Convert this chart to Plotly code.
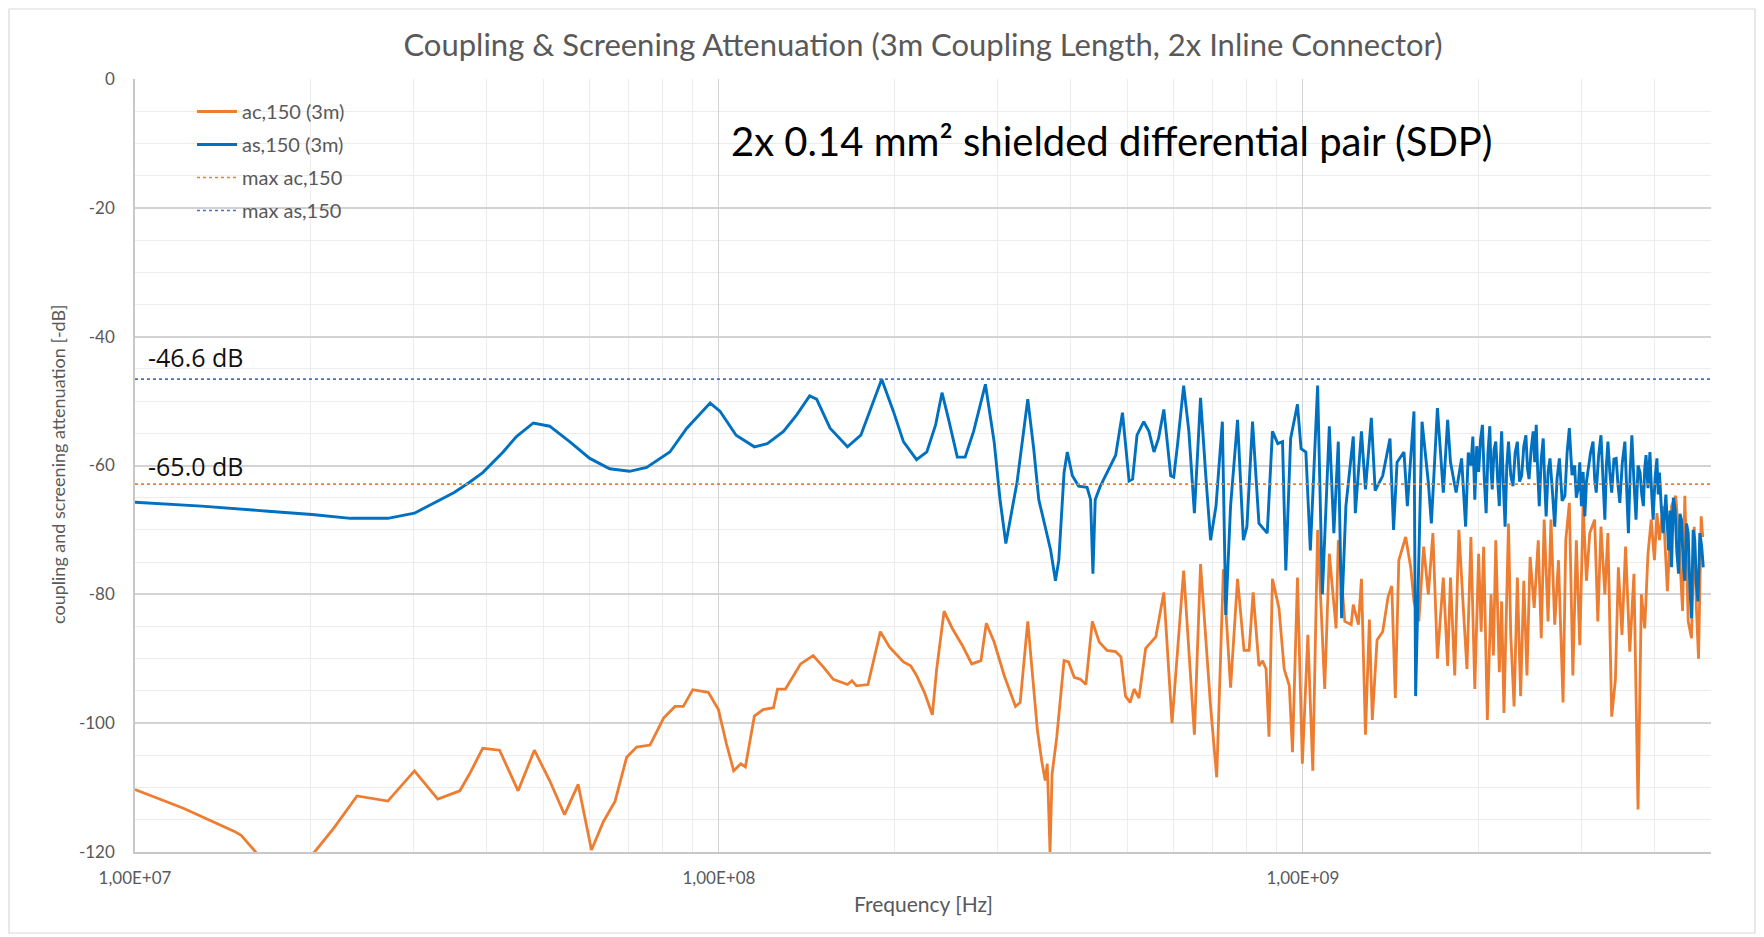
import plotly.graph_objects as go

# ---------------- data ----------------
# as,150 (3m) : 10 MHz .. 1.9 GHz
as_freq_low = [1.00e7, 1.30e7, 1.69e7, 2.01e7, 2.34e7, 2.71e7, 3.01e7, 3.26e7, 3.52e7, 3.74e7,
               3.94e7, 4.27e7, 4.50e7, 4.81e7, 5.13e7, 5.55e7, 6.01e7, 6.50e7, 7.03e7, 7.52e7,
               8.24e7, 8.81e7, 9.66e7, 1.005e8, 1.07e8, 1.15e8, 1.21e8, 1.29e8, 1.36e8, 1.43e8,
               1.47e8, 1.55e8, 1.66e8, 1.75e8, 1.82e8, 1.90e8, 1.99e8, 2.07e8, 2.18e8, 2.27e8,
               2.35e8, 2.41e8, 2.47e8, 2.56e8, 2.64e8, 2.73e8, 2.86e8, 2.96e8, 3.03e8, 3.10e8,
               3.24e8, 3.38e8, 3.46e8, 3.53e8, 3.62e8, 3.70e8, 3.77e8, 3.82e8, 3.90e8, 3.95e8,
               4.03e8, 4.13e8, 4.27e8, 4.33e8, 4.37e8, 4.41e8, 4.50e8, 4.69e8, 4.78e8, 4.91e8,
               5.04e8, 5.11e8, 5.20e8, 5.34e8, 5.45e8, 5.56e8, 5.66e8, 5.78e8, 5.94e8, 6.01e8,
               6.10e8, 6.25e8, 6.38e8, 6.52e8, 6.68e8, 6.82e8, 6.95e8, 7.10e8, 7.28e8, 7.38e8,
               7.52e8, 7.73e8, 7.91e8, 8.02e8, 8.20e8, 8.41e8, 8.69e8, 8.87e8, 9.06e8, 9.23e8,
               9.35e8, 9.53e8, 9.79e8, 9.93e8, 1.012e9, 1.03e9, 1.06e9, 1.08e9, 1.11e9, 1.13e9,
               1.15e9, 1.165e9, 1.185e9, 1.22e9, 1.23e9, 1.26e9, 1.28e9, 1.31e9, 1.33e9, 1.37e9,
               1.41e9, 1.43e9, 1.45e9, 1.49e9, 1.51e9, 1.55e9, 1.56e9, 1.60e9, 1.64e9, 1.66e9,
               1.70e9, 1.74e9, 1.77e9, 1.79e9, 1.83e9, 1.87e9, 1.90e9]
as_val_low = [-65.7, -66.3, -67.1, -67.6, -68.2, -68.2, -67.4, -65.8, -64.2, -62.6,
              -61.1, -57.9, -55.5, -53.4, -53.9, -56.3, -58.9, -60.5, -60.9, -60.3,
              -57.9, -54.2, -50.3, -51.6, -55.3, -57.1, -56.6, -54.7, -52.1, -49.2,
              -49.7, -54.2, -57.1, -55.3, -51.1, -46.6, -51.6, -56.3, -59.1, -57.9,
              -53.7, -48.7, -52.6, -58.7, -58.7, -54.7, -47.4, -56.3, -65.3, -72.1,
              -62.6, -49.7, -57.4, -65.3, -69.5, -73.2, -77.9, -74.7, -61.1, -57.9,
              -61.6, -63.2, -63.4, -65.3, -76.8, -65.3, -63.2, -60.0, -58.4, -51.8,
              -62.4, -62.1, -55.3, -53.2, -54.7, -57.9, -55.8, -51.3, -61.6, -61.8,
              -56.8, -47.6, -54.7, -67.4, -49.5, -61.6, -71.6, -66.3, -53.2, -83.2,
              -66.3, -52.9, -71.6, -69.5, -53.2, -69.0, -70.5, -54.7, -56.6, -56.3,
              -76.3, -55.8, -50.5, -57.4, -57.9, -73.2, -47.6, -80.0, -53.9, -70.5,
              -56.3, -83.7, -66.3, -55.5, -67.4, -54.7, -63.7, -52.6, -63.9, -61.6,
              -55.8, -70.0, -59.5, -57.9, -66.3, -51.6, -95.8, -53.2, -62.6, -69.0,
              -51.1, -64.2, -52.9, -59.5, -64.2, -58.9, -69.5]

# as,150 (3m) : 1.9 GHz .. 4.85 GHz (dense band)
as_freq_high = [1.92e9, 1.94e9, 1.955e9, 1.97e9, 1.985e9, 2.00e9, 2.015e9, 2.03e9, 2.045e9, 2.06e9,
                2.075e9, 2.09e9, 2.10e9, 2.11e9, 2.125e9, 2.14e9, 2.155e9, 2.17e9, 2.18e9, 2.19e9,
                2.205e9, 2.22e9, 2.235e9, 2.25e9, 2.27e9, 2.29e9, 2.31e9, 2.33e9, 2.35e9, 2.37e9,
                2.39e9, 2.41e9, 2.425e9, 2.44e9, 2.46e9, 2.48e9, 2.495e9, 2.51e9, 2.525e9, 2.54e9,
                2.56e9, 2.58e9, 2.595e9, 2.61e9, 2.63e9, 2.65e9, 2.675e9, 2.70e9, 2.725e9, 2.75e9,
                2.78e9, 2.81e9, 2.835e9, 2.86e9, 2.89e9, 2.92e9, 2.94e9, 2.96e9, 2.98e9, 3.00e9,
                3.02e9, 3.04e9, 3.06e9, 3.08e9, 3.11e9, 3.14e9, 3.16e9, 3.18e9, 3.21e9, 3.24e9,
                3.265e9, 3.29e9, 3.31e9, 3.33e9, 3.355e9, 3.38e9, 3.41e9, 3.44e9, 3.465e9, 3.49e9,
                3.525e9, 3.56e9, 3.585e9, 3.61e9, 3.635e9, 3.66e9, 3.69e9, 3.72e9, 3.75e9, 3.78e9,
                3.805e9, 3.83e9, 3.85e9, 3.87e9, 3.90e9, 3.93e9, 3.955e9, 3.98e9, 4.01e9, 4.04e9,
                4.06e9, 4.08e9, 4.11e9, 4.14e9, 4.185e9, 4.23e9, 4.255e9, 4.28e9, 4.31e9, 4.34e9,
                4.37e9, 4.40e9, 4.425e9, 4.45e9, 4.48e9, 4.51e9, 4.54e9, 4.57e9, 4.60e9, 4.63e9,
                4.66e9, 4.69e9, 4.72e9, 4.75e9, 4.785e9, 4.82e9, 4.85e9]
as_val_high = [-58.0, -60.0, -55.5, -65.3, -57.0, -61.0, -56.0, -53.7, -62.0, -67.4,
               -58.0, -53.9, -60.5, -63.7, -57.5, -56.3, -62.0, -66.3, -59.0, -54.7,
               -63.0, -69.5, -60.0, -56.3, -61.5, -63.2, -58.0, -56.3, -62.5, -61.6,
               -57.0, -55.3, -60.5, -62.1, -57.5, -54.7, -59.5, -53.7, -61.0, -66.3,
               -59.0, -55.8, -62.5, -67.9, -61.0, -58.9, -64.0, -69.5, -62.0, -58.9,
               -65.5, -64.7, -58.0, -54.2, -61.5, -60.0, -65.0, -63.7, -59.5, -66.3,
               -61.0, -67.9, -62.5, -60.5, -58.0, -56.3, -62.0, -64.2, -58.5, -55.3,
               -62.0, -68.4, -60.0, -56.3, -61.0, -64.2, -59.0, -58.9, -63.0, -65.8,
               -59.5, -56.3, -63.5, -70.5, -61.0, -55.3, -62.5, -68.4, -60.0, -61.1,
               -64.5, -66.3, -60.5, -58.4, -63.5, -57.9, -64.0, -68.4, -62.0, -58.9,
               -64.5, -61.1, -66.5, -70.5, -64.5, -73.2, -67.0, -75.8, -65.0, -66.8,
               -73.5, -76.8, -67.5, -68.4, -75.0, -77.9, -69.0, -70.5, -79.0, -83.7,
               -70.0, -71.6, -78.5, -81.1, -70.5, -72.6, -75.8]

# ac,150 (3m)
ac_freq = [1.00e7, 1.21e7, 1.48e7, 1.52e7, 1.62e7, 1.80e7, 2.03e7, 2.19e7, 2.40e7, 2.71e7,
           3.01e7, 3.30e7, 3.60e7, 3.74e7, 3.94e7, 4.21e7, 4.53e7, 4.83e7, 5.13e7, 5.44e7,
           5.74e7, 6.05e7, 6.34e7, 6.64e7, 6.95e7, 7.23e7, 7.62e7, 8.04e7, 8.41e7, 8.69e7,
           9.02e7, 9.59e7, 9.98e7, 1.03e8, 1.06e8, 1.09e8, 1.11e8, 1.15e8, 1.19e8, 1.24e8,
           1.26e8, 1.30e8, 1.38e8, 1.45e8, 1.51e8, 1.57e8, 1.66e8, 1.69e8, 1.72e8, 1.80e8,
           1.89e8, 1.96e8, 2.07e8, 2.13e8, 2.18e8, 2.25e8, 2.32e8, 2.36e8, 2.43e8, 2.51e8,
           2.61e8, 2.71e8, 2.81e8, 2.87e8, 2.96e8, 3.08e8, 3.22e8, 3.28e8, 3.38e8, 3.51e8,
           3.57e8, 3.62e8, 3.65e8, 3.69e8, 3.72e8, 3.79e8, 3.90e8, 3.97e8, 4.06e8, 4.16e8,
           4.25e8, 4.36e8, 4.48e8, 4.62e8, 4.78e8, 4.88e8, 4.97e8, 5.06e8, 5.14e8, 5.24e8,
           5.38e8, 5.60e8, 5.78e8, 5.97e8, 6.25e8, 6.52e8, 6.68e8, 6.95e8, 7.12e8, 7.31e8,
           7.52e8, 7.73e8, 7.93e8, 8.09e8, 8.22e8, 8.41e8, 8.53e8, 8.65e8, 8.75e8, 8.87e8,
           9.10e8, 9.29e8, 9.48e8, 9.60e8, 9.79e8, 9.98e8, 1.02e9, 1.04e9, 1.06e9, 1.09e9,
           1.11e9, 1.14e9, 1.15e9, 1.18e9, 1.21e9, 1.22e9, 1.245e9, 1.26e9, 1.28e9, 1.30e9,
           1.315e9, 1.34e9, 1.37e9, 1.40e9, 1.42e9, 1.44e9, 1.46e9, 1.50e9, 1.53e9, 1.55e9,
           1.58e9, 1.61e9, 1.64e9, 1.67e9, 1.70e9, 1.74e9, 1.77e9, 1.79e9, 1.82e9, 1.85e9,
           1.89e9, 1.91e9, 1.94e9, 1.97e9, 2.00e9, 2.02e9, 2.04e9, 2.07e9, 2.10e9, 2.12e9,
           2.14e9, 2.17e9, 2.19e9, 2.21e9, 2.25e9, 2.27e9, 2.30e9, 2.33e9, 2.36e9, 2.39e9,
           2.42e9, 2.45e9, 2.49e9, 2.53e9, 2.56e9, 2.59e9, 2.63e9, 2.66e9, 2.70e9, 2.74e9,
           2.79e9, 2.82e9, 2.86e9, 2.90e9, 2.94e9, 2.98e9, 3.02e9, 3.06e9, 3.10e9, 3.16e9,
           3.20e9, 3.24e9, 3.29e9, 3.33e9, 3.38e9, 3.43e9, 3.47e9, 3.52e9, 3.57e9, 3.63e9,
           3.69e9, 3.75e9, 3.80e9, 3.85e9, 3.90e9, 3.95e9, 4.00e9, 4.04e9, 4.08e9, 4.14e9,
           4.21e9, 4.28e9, 4.35e9, 4.40e9, 4.47e9, 4.51e9, 4.57e9, 4.63e9, 4.68e9, 4.72e9,
           4.76e9, 4.81e9, 4.84e9]
ac_val = [-110.3, -113.2, -116.8, -117.4, -120.3, -124.0, -120.0, -116.3, -111.3, -112.1,
          -107.4, -111.8, -110.5, -107.9, -103.9, -104.2, -110.5, -104.2, -108.9, -114.2,
          -109.5, -119.7, -115.3, -112.1, -105.3, -103.7, -103.4, -99.2, -97.4, -97.4,
          -94.8, -95.2, -97.9, -103.2, -107.4, -106.3, -106.8, -98.9, -97.9, -97.6,
          -94.7, -94.7, -90.8, -89.5, -91.3, -93.2, -94.0, -93.4, -94.2, -94.0,
          -85.8, -88.2, -90.5, -91.1, -92.6, -95.3, -98.7, -91.6, -82.6, -85.3,
          -87.9, -90.8, -90.3, -84.5, -87.4, -92.6, -97.4, -96.8, -84.2, -101.0,
          -105.8, -108.9, -106.3, -120.0, -107.9, -102.1, -90.3, -90.5, -92.9, -93.2,
          -94.0, -84.2, -87.4, -88.7, -88.9, -89.7, -95.8, -96.8, -94.7, -96.1,
          -88.4, -86.6, -79.7, -100.0, -76.3, -101.8, -75.3, -97.4, -108.4, -76.1,
          -94.5, -77.6, -88.7, -88.7, -79.7, -91.1, -90.3, -91.6, -102.1, -77.6,
          -82.1, -91.6, -94.2, -104.5, -77.4, -106.3, -86.3, -107.4, -70.0, -94.7,
          -73.7, -85.3, -71.6, -84.2, -84.7, -81.6, -84.7, -77.6, -101.8, -83.9,
          -99.5, -87.1, -85.8, -80.3, -78.7, -96.1, -74.7, -71.1, -75.8, -81.1,
          -84.2, -72.6, -80.0, -70.5, -90.0, -77.4, -91.1, -77.4, -92.6, -70.0,
          -84.7, -91.6, -71.1, -94.7, -73.7, -85.8, -72.6, -99.5, -80.0, -89.5,
          -71.6, -92.1, -81.1, -98.4, -69.0, -86.3, -97.4, -77.4, -95.8, -77.9,
          -92.6, -74.2, -82.1, -71.6, -86.8, -68.4, -84.2, -68.4, -84.7, -74.7,
          -96.8, -71.6, -65.8, -92.6, -71.6, -87.9, -66.3, -77.9, -70.5, -68.4,
          -84.2, -69.5, -80.0, -70.5, -99.0, -93.2, -75.8, -86.3, -72.6, -88.9,
          -76.8, -113.4, -80.0, -85.3, -73.7, -68.4, -74.7, -67.4, -71.6, -66.3,
          -79.5, -66.3, -64.7, -70.5, -82.6, -64.7, -84.2, -86.8, -69.5, -82.1,
          -90.0, -67.9, -71.1]

as_freq = as_freq_low + as_freq_high
as_val = as_val_low + as_val_high
assert len(as_freq) == len(as_val) and len(ac_freq) == len(ac_val)

max_ac = -62.9
max_as = -46.6
label_as = "-46.6 dB"
label_ac = "-65.0 dB"

x_range_hz = [1e7, 5e9]
x_major = [1e7, 1e8, 1e9]
x_major_text = ["1,00E+07", "1,00E+08", "1,00E+09"]
x_minor = [2e7, 3e7, 4e7, 5e7, 6e7, 7e7, 8e7, 9e7,
           2e8, 3e8, 4e8, 5e8, 6e8, 7e8, 8e8, 9e8,
           2e9, 3e9, 4e9, 5e9]
y_ticks = [0, -20, -40, -60, -80, -100, -120]
y_tick_text = ["0", "-20", "-40", "-60", "-80", "-100", "-120"]

ORANGE = "#ED7D31"
BLUE = "#0070C0"
DOT_BLUE = "#4472C4"
GRAY = "#595959"

# ---------------- geometry (page pixels; page body has an 8 px margin) ----------------
W, H = 1764, 937
OFF = 8
L, R, T, B = 135, 1711, 79, 852


def px(x):
    return (x - L) / (R - L)


def py(y):
    return (B - y) / (B - T)


fig = go.Figure()
fig.add_trace(go.Scatter(x=ac_freq, y=ac_val, mode="lines", name="ac,150 (3m)",
                         line=dict(color=ORANGE, width=2.8), legendgroup="a"))
fig.add_trace(go.Scatter(x=as_freq, y=as_val, mode="lines", name="as,150 (3m)",
                         line=dict(color=BLUE, width=2.9), legendgroup="b"))
fig.add_trace(go.Scatter(x=x_range_hz, y=[max_ac, max_ac], mode="lines", name="max ac,150",
                         line=dict(color=ORANGE, width=1.7, dash="dot"), legendgroup="c"))
fig.add_trace(go.Scatter(x=x_range_hz, y=[max_as, max_as], mode="lines", name="max as,150",
                         line=dict(color=DOT_BLUE, width=1.7, dash="dot"), legendgroup="d"))

fig.update_layout(
    width=W, height=H,
    margin=dict(l=L - OFF, r=W - (R - OFF), t=T - OFF, b=H - (B - OFF)),
    paper_bgcolor="white", plot_bgcolor="white",
    font=dict(family="Lato, Open Sans, sans-serif", color=GRAY),
    title=dict(text="Coupling & Screening Attenuation (3m Coupling Length, 2x Inline Connector)",
               x=0.5, xref="paper", xanchor="center", y=1 - (45 - OFF) / H, yanchor="middle",
               font=dict(size=31, color=GRAY, family="Lato, sans-serif")),
    legend=dict(x=px(192), y=py(92), xanchor="left", yanchor="top",
                bgcolor="rgba(0,0,0,0)", font=dict(size=20, color=GRAY),
                tracegroupgap=4, itemwidth=40),
    showlegend=True,
)

fig.update_xaxes(type="log", range=[7, 9.69897], tickvals=x_major, ticktext=x_major_text,
                 showgrid=True, gridcolor="#D3D3D3", gridwidth=1,
                 minor=dict(tickvals=x_minor, showgrid=True, gridcolor="#ECECEC", gridwidth=1),
                 showline=True, linecolor="#C8C8C8", linewidth=1.5, ticks="",
                 tickfont=dict(size=17, color=GRAY, family="Lato, sans-serif"),
                 ticklabelstandoff=10, zeroline=False)
fig.update_yaxes(range=[-120, 0], tickvals=y_ticks, ticktext=y_tick_text,
                 showgrid=True, gridcolor="#D3D3D3", gridwidth=1.5,
                 minor=dict(dtick=5, showgrid=True, gridcolor="#ECECEC", gridwidth=1),
                 showline=True, linecolor="#C8C8C8", linewidth=1.5, ticks="",
                 tickfont=dict(size=17, color=GRAY, family="Lato, sans-serif"),
                 ticklabelstandoff=15, zeroline=False)

annotations = [
    dict(text="2x 0.14 mm² shielded differential pair (SDP)", x=px(1112), y=py(141),
         xanchor="center", yanchor="middle", showarrow=False,
         font=dict(size=40, color="#000000", family="Lato, sans-serif")),
    dict(text=label_as, x=px(146), y=py(357), xanchor="left", yanchor="middle", showarrow=False,
         font=dict(size=25, color="#111111", family="Open Sans, sans-serif")),
    dict(text=label_ac, x=px(146), y=py(466), xanchor="left", yanchor="middle", showarrow=False,
         font=dict(size=25, color="#111111", family="Open Sans, sans-serif")),
    dict(text="coupling and screening attenuation [-dB]", x=px(58), y=py(464), textangle=-90,
         xanchor="center", yanchor="middle", showarrow=False,
         font=dict(size=18, color=GRAY, family="Lato, sans-serif")),
    dict(text="Frequency [Hz]", x=px(923), y=py(903), xanchor="center", yanchor="middle",
         showarrow=False, font=dict(size=21, color=GRAY, family="Lato, sans-serif")),
]
for a in annotations:
    a["xref"] = "paper"
    a["yref"] = "paper"
fig.update_layout(annotations=annotations)

fig.add_shape(type="rect", xref="paper", yref="paper",
              x0=px(9), x1=px(1755), y0=py(933), y1=py(9),
              line=dict(color="#D9D9D9", width=1.2), fillcolor="rgba(0,0,0,0)", layer="below")

fig.write_html("out.html")
